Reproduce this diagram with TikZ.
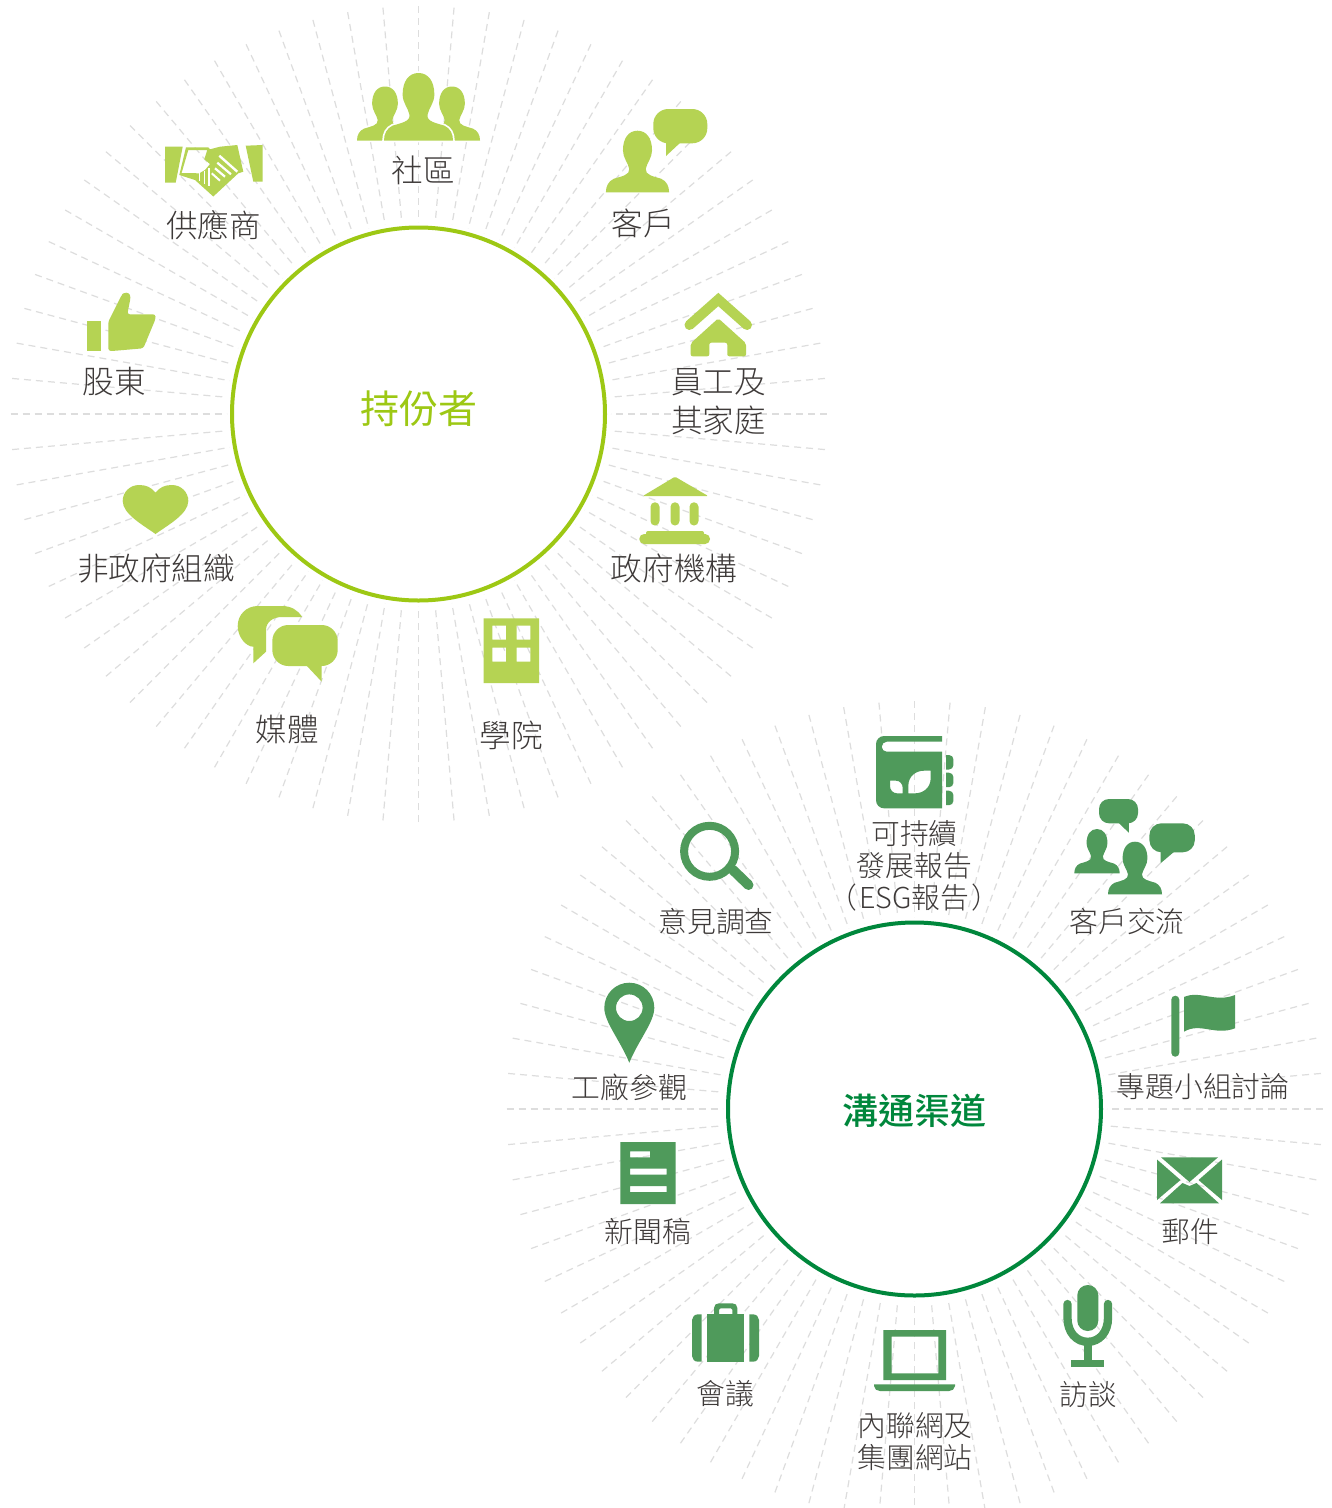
\documentclass[tikz,border=0pt]{standalone}
\usepackage{fontspec}
\usetikzlibrary{calc}
\newfontfamily\cjk{Noto Sans CJK TC Light}
\newfontfamily\cjkm{Noto Sans CJK TC Medium}
\newfontfamily\cjkr{Noto Sans CJK TC}
\definecolor{iconL}{HTML}{B5D353}
\definecolor{iconD}{HTML}{4F9A5B}
\definecolor{ringL}{HTML}{9DC814}
\definecolor{ringD}{HTML}{00873C}
\definecolor{rayc}{HTML}{DDDDDD}
\definecolor{textc}{HTML}{3E3A39}
\tikzset{
  raydash/.style={draw=rayc,line width=1.2pt,dash pattern=on 7pt off 5pt},
  hubring/.style={circle,draw,line width=4pt,minimum size=373pt,inner sep=0pt,fill=white},
  lab/.style={text=textc,align=center,inner sep=0pt,font=\cjk\fontsize{31.6}{39}\selectfont},
  labd/.style={text=textc,align=center,inner sep=0pt,font=\cjk\fontsize{28.8}{32}\selectfont},
  halo/.style={preaction={draw=white,line width=3.5pt}},
}
\newcommand\personicon[5]{\begin{scope}[shift={(#1,#2)},x=#3pt,y=-#4pt]
  \fill[#5] (0,0) .. controls (.28,0) and (.46,.12) .. (.46,.32) .. controls (.46,.44) and (.3,.52) .. (.26,.62)
   .. controls (.24,.72) and (.5,.74) .. (.75,.78) .. controls (.92,.82) and (1,.9) .. (1,1) -- (-1,1)
   .. controls (-1,.9) and (-.92,.82) .. (-.75,.78) .. controls (-.5,.74) and (-.24,.72) .. (-.26,.62)
   .. controls (-.3,.52) and (-.46,.44) .. (-.46,.32) .. controls (-.46,.12) and (-.28,0) .. (0,0) -- cycle;
\end{scope}}
\begin{document}
\begin{tikzpicture}[x=1pt,y=-1pt]
\clip (0,0) rectangle (1332,1508);
\fill[white] (0,0) rectangle (1332,1508);
\coordinate (c1) at (418.5,414);
\coordinate (c2) at (914.5,1109);
\foreach \a in {0,5,...,355}{
  \draw[raydash] ($(c1)+(\a:408)$) -- ($(c1)+(\a:192)$);
  \draw[raydash] ($(c2)+(\a:408)$) -- ($(c2)+(\a:192)$);
}
\node[hubring,draw=ringL] (hub1) at (c1) {};
\node[hubring,draw=ringD] (hub2) at (c2) {};
\node[text=ringL,inner sep=0pt,font=\cjkr\fontsize{39}{39}\selectfont] (title1) at (418.5,409) {持份者};
\node[text=ringD,inner sep=0pt,font=\cjkm\fontsize{36}{36}\selectfont] (title2) at (914.5,1111) {溝通渠道};
% labels group 1
\node[lab] (l1) at (423,170) {社區};
\node[lab] (l2) at (213.5,225.5) {供應商};
\node[lab] (l3) at (643.5,223) {客戶};
\node[lab] (l4) at (114,382) {股東};
\node[lab] (l5) at (718.5,402) {員工及\\其家庭};
\node[lab] (l6) at (674,568) {政府機構};
\node[lab] (l7) at (156,568) {非政府組織};
\node[lab] (l8) at (287.5,730) {媒體};
\node[lab] (l9) at (511,735) {學院};
% labels group 2
\node[labd] (m1) at (914.5,865.5) {可持續\\發展報告\\（\hspace{2pt}ESG報告\hspace{2pt}）};
\node[labd] (m2) at (716,921) {意見調查};
\node[labd] (m3) at (1127,921) {客戶交流};
\node[labd] (m4) at (629.5,1087) {工廠參觀};
\node[labd] (m5) at (1203,1087) {專題小組討論};
\node[labd] (m6) at (648,1232) {新聞稿};
\node[labd] (m7) at (1190,1232) {郵件};
\node[labd] (m8) at (725.5,1394) {會議};
\node[labd] (m9) at (915,1442) {內聯網及\\集團網站};
\node[labd] (m10) at (1088,1394) {訪談};
% community
\personicon{385}{86.5}{28}{54}{iconL}
\personicon{452}{86.5}{28}{54}{iconL}
\personicon{418.5}{73}{34.5}{67.5}{iconL,halo}
% customer
\personicon{637.5}{130.7}{31.6}{61.6}{iconL}
\fill[iconL,rounded corners=15pt] (653.3,109) rectangle (707.3,143.3);
\fill[iconL] (666,142) -- (666,156) -- (681,142) -- cycle;
% handshake
\fill[iconL] (165,146.7) -- (182.7,146.7) -- (175.7,182.7) -- (165,182.7) -- cycle;
\fill[iconL] (245.7,145.7) -- (262.7,145) -- (262.7,181.7) -- (253.3,181.7) -- cycle;
\fill[iconL,even odd rule] (186,147.3) -- (208.3,147.3) -- (210,149.3) -- (220,146.7) -- (237.3,145) -- (243.3,171.7) -- (238.3,173.3) -- (213.3,196.5) -- (195,180) -- (179.3,175) -- cycle
  (188.3,150) -- (207.3,150) -- (204.3,159.3) -- (210,164) -- (205,170) -- (199.3,173.3) -- (181.6,173) -- cycle;
\draw[white,line width=2.4pt] (219.3,155.7) -- (237.3,171.7);
\draw[white,line width=2.2pt] (217.3,162.7) -- (231,174.3);
\draw[white,line width=2.2pt] (215,168.3) -- (225,176.7);
\draw[white,line width=2pt] (211.7,173.3) -- (220,180.7);
\draw[white,line width=1.6pt] (199.5,172) -- (199.5,180.5);
\draw[white,line width=1.6pt] (204.5,171) -- (204.5,184);
\draw[white,line width=1.6pt] (209,168) -- (209,186);
% thumb
\fill[iconL] (87,321) rectangle (101,350.7);
\fill[iconL,rounded corners=2.5pt] (108.3,321.7) -- (121.7,295) -- (124,292.7) -- (129,292.7) -- (130.7,297) -- (127.3,314.3) -- (155.5,314.3) -- (155.5,319) -- (143.3,348.3) -- (113.3,350.9) -- (108.3,350.9) -- cycle;
% home
\draw[iconL,line width=10pt,line cap=round,miter limit=10] (689.5,325) -- (718.3,299.5) -- (747,325);
\fill[iconL,even odd rule,rounded corners=2pt] (718.3,318.3) -- (746,343.3) -- (746,356.3) -- (727.3,356.3) -- (727.3,342.7) -- (709.3,342.7) -- (709.3,356.3) -- (690.7,356.3) -- (690.7,343.3) -- cycle;
% bank
\fill[iconL,rounded corners=1.5pt] (675,476.7) -- (708.5,496.2) -- (642.5,496.2) -- cycle;
\foreach \cx in {655,675,694}{
  \fill[iconL,rounded corners=4.4pt] (\cx-4.5,502.3) rectangle (\cx+4.5,525.5);
}
\fill[iconL,rounded corners=2pt] (646,531) rectangle (704,538);
\fill[iconL,rounded corners=4.8pt] (639.3,534) rectangle (710,544);
% heart
\fill[iconL] (155.5,492.7) .. controls (151,487) and (146,485) .. (139,485) .. controls (130,485) and (122.7,492) .. (122.7,501) .. controls (122.7,514) and (143,525) .. (155.5,534)
  .. controls (168,525) and (188.3,514) .. (188.3,501) .. controls (188.3,492) and (181,485) .. (172,485) .. controls (165,485) and (160,487) .. (155.5,492.7) -- cycle;
% media
\fill[iconL] (302,617) .. controls (298,610) and (291,606) .. (282,606) -- (258,606) .. controls (246,606) and (237.7,615) .. (237.7,626) .. controls (237.7,637) and (246,646.7) .. (253.3,646.7) -- (253.3,663.3) -- (266,651.7) -- (266,630) .. controls (266,622) and (273,617) .. (282,617) -- cycle;
\fill[iconL,rounded corners=16pt] (272.3,625) rectangle (337.7,666);
\fill[iconL] (306,665) -- (321.7,681.7) -- (321.7,665) -- cycle;
% building
\fill[iconL,even odd rule] (483.7,618.3) rectangle (539,683)
  (492.3,625.7) rectangle (506,639.7) (516.7,625.7) rectangle (530.3,639.7)
  (492.3,647.7) rectangle (506,661.7) (516.7,647.7) rectangle (530.3,661.7);
% report
\fill[iconD,even odd rule] (942,736) -- (884,736) .. controls (879.6,736) and (876,739.6) .. (876,744) -- (876,800.3) .. controls (876,804.7) and (879.6,808.3) .. (884,808.3) -- (942,808.3) -- (942,751.7) -- (886.7,751.7) .. controls (884,751.7) and (881.7,749.5) .. (881.7,746.7) .. controls (881.7,744) and (884,741.7) .. (886.7,741.7) -- (942,741.7) -- cycle
  (908.3,793.3) -- (908.3,786) .. controls (908.3,776) and (916,770.7) .. (924,770.7) -- (930.7,770.7) -- (930.7,778) .. controls (930.7,788) and (923,793.3) .. (915,793.3) -- cycle
  (890,780.7) -- (896,780.7) .. controls (900,780.7) and (902.7,784) .. (902.7,788) -- (902.7,793.3) -- (897,793.3) .. controls (893,793.3) and (890,790) .. (890,786) -- cycle;
\foreach \ty in {755,772.7,790.7}{
  \fill[iconD] (946,\ty) -- (949,\ty) .. controls (951.5,\ty) and (953.3,\ty+2) .. (953.3,\ty+4) -- (953.3,\ty+10.5) .. controls (953.3,\ty+12.5) and (951.5,\ty+14.5) .. (949,\ty+14.5) -- (946,\ty+14.5) -- cycle;
}
% magnifier
\draw[iconD,line width=8pt] (709.6,851.3) circle (25.5);
\draw[iconD,line width=10pt,line cap=round] (733,870) -- (748.5,885);
% customer exchange
\fill[iconD,rounded corners=10pt] (1099,799) rectangle (1138,823.3);
\fill[iconD] (1117.8,822) -- (1128.8,832.7) -- (1128.8,822) -- cycle;
\fill[iconD,rounded corners=12pt] (1149.4,823.3) rectangle (1194.8,852.3);
\fill[iconD] (1160.5,851) -- (1160.5,863.3) -- (1175,851) -- cycle;
\personicon{1097}{829}{22.7}{44.3}{iconD}
\personicon{1135}{841.7}{27}{52.6}{iconD}
% pin
\fill[iconD,even odd rule] (629.3,1062.7) .. controls (620,1040) and (604.3,1022) .. (604.3,1007.7) .. controls (604.3,993.9) and (615.5,982.7) .. (629.3,982.7) .. controls (643.1,982.7) and (654.3,993.9) .. (654.3,1007.7) .. controls (654.3,1022) and (638.6,1040) .. (629.3,1062.7) -- cycle
  (629.3,1007.7) circle (13.3);
% news
\fill[iconD,even odd rule] (620.3,1142) rectangle (675.7,1204)
  (630,1151.3) rectangle (650,1157.3) (630,1168.7) rectangle (666.7,1174.7) (630,1186) rectangle (666.7,1192);
% briefcase
\fill[iconD,even odd rule] (714,1314.6) -- (714,1308) .. controls (714,1305) and (716,1303.3) .. (719,1303.3) -- (732.3,1303.3) .. controls (735.3,1303.3) and (737.3,1305) .. (737.3,1308) -- (737.3,1314.6) -- cycle
  (719,1314.6) -- (719,1309.7) .. controls (719,1308.8) and (719.8,1308.3) .. (720.5,1308.3) -- (730.8,1308.3) .. controls (731.5,1308.3) and (732.3,1308.8) .. (732.3,1309.7) -- (732.3,1314.6) -- cycle;
\fill[iconD] (706.7,1314.3) rectangle (744,1361.7);
\fill[iconD] (701.7,1314.3) -- (698,1314.3) .. controls (694.5,1314.3) and (692,1317) .. (692,1320) -- (692,1356) .. controls (692,1359) and (694.5,1361.7) .. (698,1361.7) -- (701.7,1361.7) -- cycle;
\fill[iconD] (749.3,1314.3) -- (753,1314.3) .. controls (756.5,1314.3) and (759,1317) .. (759,1320) -- (759,1356) .. controls (759,1359) and (756.5,1361.7) .. (753,1361.7) -- (749.3,1361.7) -- cycle;
% laptop
\fill[iconD,even odd rule] (883.3,1330) rectangle (946,1380) (891.7,1336.7) rectangle (938.3,1373.3);
\fill[iconD] (874,1384.3) -- (955,1384.3) -- (955,1386) .. controls (955,1389) and (952,1391) .. (949,1391) -- (880,1391) .. controls (877,1391) and (874,1389) .. (874,1386) -- cycle;
% mic
\fill[iconD,rounded corners=10.4pt] (1077.3,1285) rectangle (1098.3,1331);
\draw[iconD,line width=8.3pt,line cap=round] (1067.5,1304) -- (1067.5,1318) .. controls (1067.5,1332) and (1076,1341.8) .. (1087.8,1341.8) .. controls (1099.5,1341.8) and (1108,1332) .. (1108,1318) -- (1108,1304);
\fill[iconD] (1084,1341) rectangle (1091.7,1361);
\fill[iconD] (1071,1360) rectangle (1104.3,1367.3);
% flag
\fill[iconD,rounded corners=3.9pt] (1171.3,995.7) rectangle (1179.3,1056.7);
\fill[iconD] (1184,997) .. controls (1200,990) and (1215,1003) .. (1235,995) -- (1235,1028.3) .. controls (1215,1036) and (1200,1022) .. (1184,1031.7) -- cycle;
% envelope
\fill[iconD] (1161,1157.3) -- (1218,1157.3) -- (1189.5,1182) -- cycle;
\fill[iconD] (1157,1159.5) -- (1157,1200) -- (1180.5,1180) -- cycle;
\fill[iconD] (1222,1159.5) -- (1222,1200) -- (1198.5,1180) -- cycle;
\fill[iconD] (1160,1203.3) -- (1219,1203.3) -- (1196.5,1183) -- (1189.5,1186) -- (1182.5,1183) -- cycle;
\end{tikzpicture}
\end{document}
